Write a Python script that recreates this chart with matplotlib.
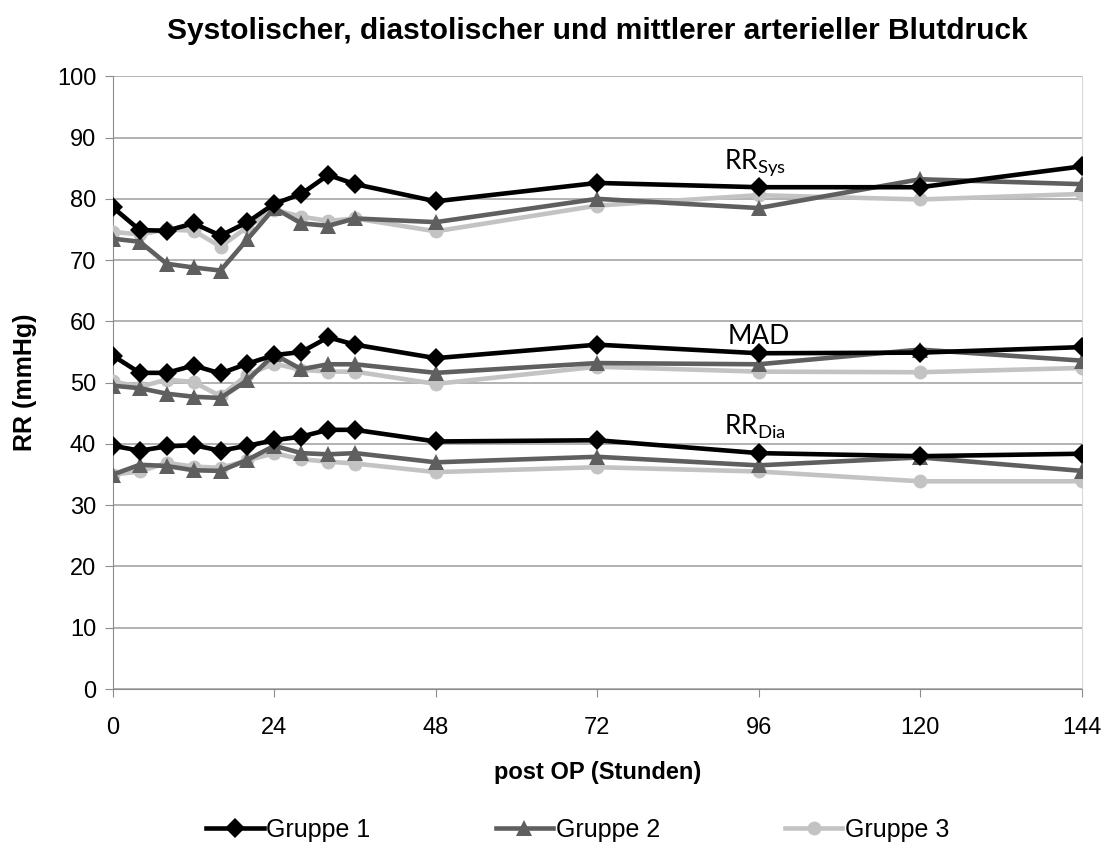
import numpy as np
import matplotlib
matplotlib.use("Agg")
import matplotlib.pyplot as plt

plt.rcParams['font.family'] = ['Liberation Sans', 'DejaVu Sans']

# Messzeitpunkte (Stunden post OP)
stunden = [0, 4, 8, 12, 16, 20, 24, 28, 32, 36, 48, 72, 96, 120, 144]

# Systolischer Blutdruck
sys_g1 = [78.6, 74.9, 74.8, 76.0, 74.0, 76.2, 79.2, 80.8, 83.9, 82.4, 79.6, 82.6, 81.9, 81.9, 85.3]
sys_g2 = [73.5, 73.0, 69.4, 68.8, 68.3, 73.4, 78.5, 76.0, 75.6, 76.8, 76.2, 80.0, 78.5, 83.2, 82.4]
sys_g3 = [74.6, 74.2, 75.0, 74.8, 72.2, 75.4, 78.2, 77.1, 76.4, 76.8, 74.7, 78.9, 80.6, 79.9, 80.8]

# Mittlerer arterieller Druck
mad_g1 = [54.4, 51.6, 51.6, 52.8, 51.5, 53.1, 54.5, 55.0, 57.4, 56.2, 54.0, 56.2, 54.8, 54.9, 55.8]
mad_g2 = [49.5, 49.1, 48.2, 47.7, 47.5, 50.4, 54.6, 52.2, 53.0, 53.0, 51.6, 53.2, 53.0, 55.4, 53.6]
mad_g3 = [50.2, 49.3, 50.5, 50.1, 47.8, 51.3, 53.1, 52.1, 51.8, 51.8, 49.8, 52.6, 51.8, 51.7, 52.4]

# Diastolischer Blutdruck
dia_g1 = [39.7, 38.9, 39.6, 39.8, 38.9, 39.7, 40.6, 41.2, 42.3, 42.3, 40.4, 40.6, 38.5, 38.0, 38.4]
dia_g2 = [35.0, 36.6, 36.4, 35.7, 35.6, 37.4, 39.7, 38.5, 38.3, 38.5, 37.0, 37.9, 36.5, 37.8, 35.6]
dia_g3 = [35.0, 35.5, 36.9, 36.3, 36.1, 37.3, 38.5, 37.5, 37.1, 36.8, 35.4, 36.2, 35.5, 33.9, 33.9]

gruppen = ['Gruppe 1', 'Gruppe 2', 'Gruppe 3']
farben = ['#000000', '#5f5f5f', '#c3c3c3']
marker = ['D', '^', 'o']
msize = [10, 11, 10]

fig = plt.figure(figsize=(11.07, 8.48), dpi=100)
ax = fig.add_axes([0.102, 0.1875, 0.875, 0.7225])

reihen = [
    [sys_g1, mad_g1, dia_g1],
    [sys_g2, mad_g2, dia_g2],
    [sys_g3, mad_g3, dia_g3],
]

# Gruppe 3 zuerst zeichnen, damit Gruppe 1 oben liegt
for i in [2, 1, 0]:
    for j, werte in enumerate(reihen[i]):
        ax.plot(stunden, werte, color=farben[i], marker=marker[i], markersize=msize[i],
                linewidth=3.3, markeredgewidth=0, zorder=3 + (2 - i),
                label=gruppen[i] if j == 0 else None)

ax.set_xlim(0, 144)
ax.set_ylim(0, 100)
ax.set_xticks([0, 24, 48, 72, 96, 120, 144])
ax.set_yticks(range(0, 101, 10))
ax.grid(axis='y', color='#a6a6a6', linewidth=1.2)
ax.set_axisbelow(True)

ax.spines['top'].set_visible(False)
ax.spines['right'].set_color('#d9d9d9')
ax.spines['left'].set_color('#8c8c8c')
ax.spines['bottom'].set_color('#8c8c8c')
ax.tick_params(axis='both', colors='#8c8c8c', labelcolor='black', labelsize=17,
               length=6, direction='out')
ax.tick_params(axis='x', pad=14)
ax.tick_params(axis='y', pad=6)

ax.set_title('Systolischer, diastolischer und mittlerer arterieller Blutdruck',
             fontsize=21.5, fontweight='bold', pad=27)
ax.set_xlabel('post OP (Stunden)', fontsize=17, fontweight='bold', labelpad=16)
ax.set_ylabel('RR (mmHg)', fontsize=18, fontweight='bold', labelpad=14)

# Beschriftungen der Kurven
ax.text(95.5, 86.0, r'RR$_{\mathregular{Sys}}$', fontsize=19, family='Lato',
        ha='center', va='center')
ax.text(96.0, 57.5, 'MAD', fontsize=19, family='Lato', ha='center', va='center')
ax.text(95.5, 42.8, r'RR$_{\mathregular{Dia}}$', fontsize=19, family='Lato',
        ha='center', va='center')

handles, labels = ax.get_legend_handles_labels()
order = [labels.index(g) for g in gruppen]
fig.legend([handles[k] for k in order], [labels[k] for k in order],
           loc='center', bbox_to_anchor=(0.522, 0.021), ncol=3, frameon=False,
           fontsize=18, handlelength=2.3, handletextpad=0.1, columnspacing=5.0)

fig.savefig('out.png', dpi=100)
